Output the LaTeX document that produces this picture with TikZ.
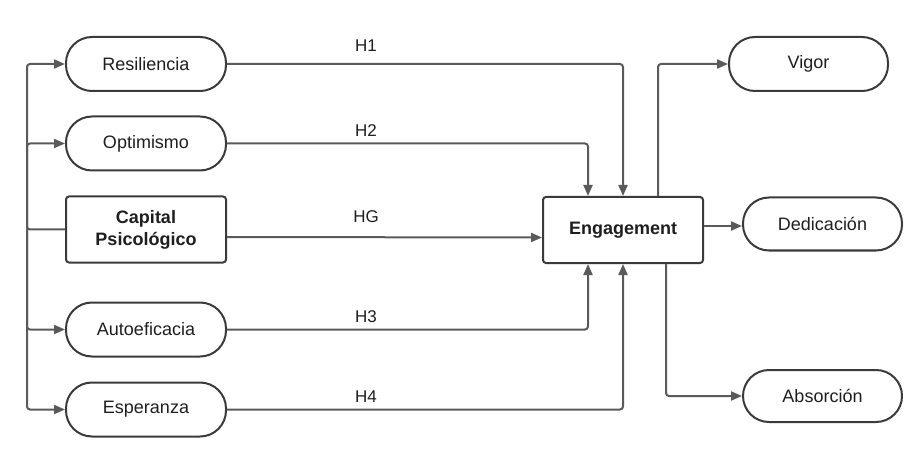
\documentclass[tikz,border=0pt]{standalone}
\usepackage{fontspec}
\setmainfont{Liberation Sans}
\usetikzlibrary{arrows.meta,calc}
\definecolor{linec}{HTML}{5A5A5A}
\definecolor{boxc}{HTML}{3A3A3A}
\definecolor{txtc}{HTML}{1E1E1E}
\begin{document}
\begin{tikzpicture}[x=1pt,y=-1pt,
  every node/.style={font=\fontsize{18}{21}\selectfont, text=txtc},
  pill/.style={draw=boxc, line width=2pt, rounded corners=26pt, minimum width=160pt, minimum height=54pt, inner sep=0pt},
  rbox/.style={draw=boxc, line width=2pt, rounded corners=3pt, minimum width=160pt, minimum height=66pt, inner sep=0pt, align=center, font=\fontsize{18}{22}\selectfont\bfseries},
  conn/.style={draw=linec, line width=2pt, rounded corners=3pt},
  arr/.style={conn, -{Triangle[length=11pt,width=9pt]}},
  lab/.style={font=\fontsize{17}{20}\selectfont}
]
\useasboundingbox (0,0) rectangle (920,454);
\node[pill] (res) at (146,64) {Resiliencia};
\node[pill] (opt) at (146,143.5) {Optimismo};
\node[rbox] (cap) at (146,229.5) {Capital\\Psicológico};
\node[pill] (aut) at (146,329.5) {Autoeficacia};
\node[pill] (esp) at (146,409.5) {Esperanza};
\node[rbox] (eng) at (623,230) {Engagement};
\node[pill, minimum width=159pt] (vig) at (808.5,64) {Vigor};
\node[pill, minimum width=159pt, minimum height=53pt] (ded) at (822.5,224) {Dedicación};
\node[pill, minimum width=159pt, minimum height=52pt] (abs) at (822.5,396) {Absorción};
\coordinate (bus) at (27,229.5);
% left bus
\draw[arr] (cap.west) -- (bus) |- (res.west);
\draw[arr] (bus) |- (opt.west);
\draw[arr] (bus) |- (aut.west);
\draw[arr] (bus) |- (esp.west);
% hypotheses
\draw[arr] (res.east) -| (eng.north);
\draw[arr] (opt.east) -| ($(eng.north)+(-35,0)$);
\draw[arr] ([yshift=-7.5pt]cap.east) -- ([yshift=-7.5pt]eng.west);
\draw[arr] (aut.east) -| ($(eng.south)+(-35,0)$);
\draw[arr] (esp.east) -| (eng.south);
% outputs
\draw[arr] ($(eng.north)+(35,0)$) |- (vig.west);
\draw[arr] ([yshift=4pt]eng.east) -- ([yshift=4pt]eng.east -| ded.west);
\draw[arr] ($(eng.south)+(43,0)$) |- (abs.west);
% labels
\node[lab] (l1) at (366,46) {H1};
\node[lab] (l2) at (366,131) {H2};
\node[lab] (lg) at (366,217) {HG};
\node[lab] (l3) at (366,317) {H3};
\node[lab] (l4) at (366,397) {H4};
\end{tikzpicture}
\end{document}
